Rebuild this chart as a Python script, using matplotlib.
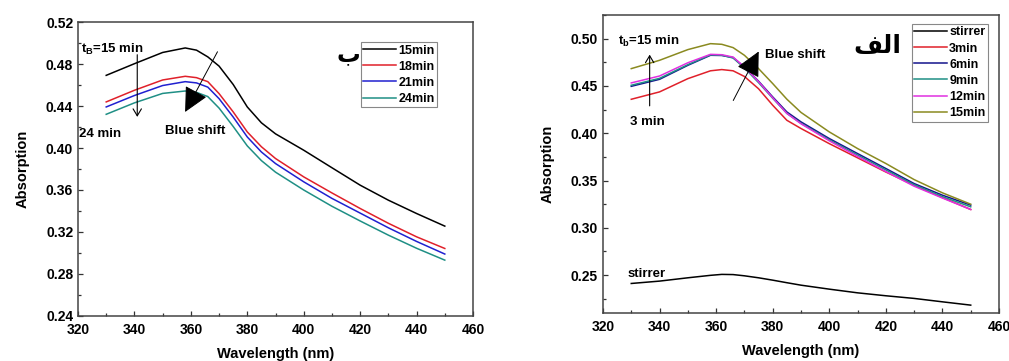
import matplotlib
matplotlib.use('agg')
import matplotlib.pyplot as plt
from matplotlib.ticker import MultipleLocator

plt.rcParams['font.family'] = ['Liberation Sans', 'DejaVu Sans']
plt.rcParams['font.weight'] = 'bold'
plt.rcParams['mathtext.fontset'] = 'custom'
plt.rcParams['mathtext.bf'] = 'Liberation Sans:bold'
plt.rcParams['mathtext.rm'] = 'Liberation Sans:bold'

# wavelength grid (nm)
wl = [330, 340, 350, 358, 362, 366, 370, 375, 380, 385, 390, 400, 410, 420, 430, 440, 450]

# left panel (b)
b_labels = ['15min', '18min', '21min', '24min']
b_15 = [0.4692, 0.4803, 0.4910, 0.4953, 0.4932, 0.4868, 0.4780, 0.4605, 0.4391, 0.4240,
        0.4135, 0.3979, 0.3812, 0.3646, 0.3503, 0.3376, 0.3256]
b_18 = [0.4439, 0.4550, 0.4648, 0.4683, 0.4670, 0.4632, 0.4518, 0.4344, 0.4153, 0.4012,
        0.3900, 0.3725, 0.3572, 0.3424, 0.3283, 0.3154, 0.3043]
b_21 = [0.4391, 0.4500, 0.4595, 0.4632, 0.4620, 0.4580, 0.4470, 0.4295, 0.4105, 0.3962,
        0.3852, 0.3678, 0.3520, 0.3380, 0.3240, 0.3110, 0.2990]
b_24 = [0.4321, 0.4430, 0.4520, 0.4543, 0.4530, 0.4490, 0.4380, 0.4205, 0.4020, 0.3880,
        0.3770, 0.3600, 0.3445, 0.3305, 0.3170, 0.3045, 0.2932]
b_colors = ['black', '#e0202a', '#2020d0', '#1f8f85']

# right panel (alef)
a_labels = ['stirrer', '3min', '6min', '9min', '12min', '15min']
a_stirrer = [0.2412, 0.2437, 0.2472, 0.2498, 0.2508, 0.2506, 0.2493, 0.2472, 0.2447, 0.2420,
             0.2394, 0.2352, 0.2313, 0.2282, 0.2254, 0.2218, 0.2183]
a_3 = [0.4359, 0.4437, 0.4577, 0.4660, 0.4673, 0.4660, 0.4600, 0.4470, 0.4296, 0.4137,
       0.4050, 0.3890, 0.3740, 0.3590, 0.3450, 0.3320, 0.3194]
a_6 = [0.4496, 0.4570, 0.4718, 0.4824, 0.4822, 0.4800, 0.4700, 0.4550, 0.4384, 0.4225,
       0.4120, 0.3944, 0.3785, 0.3627, 0.3468, 0.3345, 0.3240]
a_9 = [0.4507, 0.4580, 0.4725, 0.4828, 0.4825, 0.4795, 0.4690, 0.4535, 0.4370, 0.4210,
       0.4105, 0.3930, 0.3770, 0.3612, 0.3455, 0.3330, 0.3222]
a_12 = [0.4532, 0.4605, 0.4745, 0.4834, 0.4830, 0.4805, 0.4700, 0.4545, 0.4375, 0.4210,
        0.4100, 0.3920, 0.3755, 0.3595, 0.3440, 0.3315, 0.3194]
a_15 = [0.4683, 0.4771, 0.4884, 0.4947, 0.4940, 0.4905, 0.4824, 0.4683, 0.4525, 0.4360,
        0.4220, 0.4014, 0.3838, 0.3680, 0.3510, 0.3370, 0.3250]
a_colors = ['black', '#e0202a', '#14148c', '#1f8f85', '#e030e0', '#8a8a20']


def style_axes(ax, ymajor, yminor):
    ax.set_xlim(320, 460)
    ax.xaxis.set_major_locator(MultipleLocator(20))
    ax.xaxis.set_minor_locator(MultipleLocator(10))
    ax.yaxis.set_major_locator(MultipleLocator(ymajor))
    ax.yaxis.set_minor_locator(MultipleLocator(yminor))
    ax.tick_params(which='both', direction='in', top=False, right=False,
                   labelsize=10, width=0.9, color='#333333')
    ax.tick_params(which='major', length=3.5)
    ax.tick_params(axis='x', pad=5)
    ax.tick_params(which='minor', length=2)
    for sp in ax.spines.values():
        sp.set_linewidth(1.1)
        sp.set_color('#444444')
    ax.set_xlabel('Wavelength (nm)', fontsize=10.5, fontweight='bold', labelpad=7)
    ax.set_ylabel('Absorption', fontsize=10.5, fontweight='bold', labelpad=12)


def add_legend(ax, anchor):
    leg = ax.legend(loc='upper right', bbox_to_anchor=anchor, fontsize=9,
                    handlelength=2.6, handletextpad=0.2, labelspacing=0.33,
                    borderpad=0.2, borderaxespad=0, fancybox=False,
                    edgecolor='#888888', framealpha=1)
    leg.get_frame().set_linewidth(0.8)
    return leg


fig = plt.figure(figsize=(10.09, 3.61), dpi=100)

# ---- left panel
ax1 = fig.add_axes([0.0773, 0.1247, 0.3915, 0.8143])
for ys, lab, c in zip([b_15, b_18, b_21, b_24], b_labels, b_colors):
    ax1.plot(wl, ys, color=c, lw=1.1, label=lab)
ax1.set_ylim(0.24, 0.52)
style_axes(ax1, 0.04, 0.02)
ax1.yaxis.set_major_formatter(plt.FormatStrFormatter('%.2f'))
add_legend(ax1, (0.909, 0.932))
ax1.text(0.685, 0.89, '\ufe8f', fontsize=17, family='DejaVu Sans', ha='center', va='center',
         transform=ax1.transAxes)
ax1.text(321, 0.4935, r'$\mathbf{t}_\mathbf{B}$=15 min', fontsize=9.5, ha='left', va='center')
ax1.annotate('', xy=(341, 0.427), xytext=(341, 0.4915),
             arrowprops=dict(arrowstyle='->,head_length=0.5,head_width=0.3', lw=0.8, color='black'))
ax1.text(320.5, 0.4137, '24 min', fontsize=9.5, ha='left', va='center')
ax1.annotate('', xy=(357.5, 0.432), xytext=(369.9, 0.494),
             arrowprops=dict(arrowstyle='-|>,head_length=1.1,head_width=0.55', lw=0.7,
                             color='black', mutation_scale=14))
ax1.text(361.4, 0.4163, 'Blue shift', fontsize=9.5, ha='center', va='center')

# ---- right panel
ax2 = fig.add_axes([0.5976, 0.133, 0.3925, 0.8255])
for ys, lab, c in zip([a_stirrer, a_3, a_6, a_9, a_12, a_15], a_labels, a_colors):
    ax2.plot(wl, ys, color=c, lw=1.1, label=lab)
ax2.set_ylim(0.21, 0.525)
style_axes(ax2, 0.05, 0.025)
ax2.yaxis.set_major_formatter(plt.FormatStrFormatter('%.2f'))
add_legend(ax2, (0.972, 0.970))
ax2.text(0.692, 0.895, '\ufed2\ufedf\ufe8d', fontsize=18, family='DejaVu Sans',
         ha='center', va='center', transform=ax2.transAxes)
ax2.text(325.3, 0.4965, r'$\mathbf{t}_\mathbf{b}$=15 min', fontsize=9.5, ha='left', va='center')
ax2.annotate('', xy=(336.5, 0.486), xytext=(336.5, 0.426),
             arrowprops=dict(arrowstyle='->,head_length=0.5,head_width=0.3', lw=0.8, color='black'))
ax2.text(335.7, 0.412, '3 min', fontsize=9.5, ha='center', va='center')
ax2.annotate('', xy=(375.5, 0.489), xytext=(365.6, 0.432),
             arrowprops=dict(arrowstyle='-|>,head_length=1.1,head_width=0.55', lw=0.7,
                             color='black', mutation_scale=14))
ax2.text(377.4, 0.483, 'Blue shift', fontsize=9.5, ha='left', va='center')
ax2.text(328.8, 0.2515, 'stirrer', fontsize=9.5, ha='left', va='center')

fig.savefig('out.png', dpi=100, facecolor='white')
